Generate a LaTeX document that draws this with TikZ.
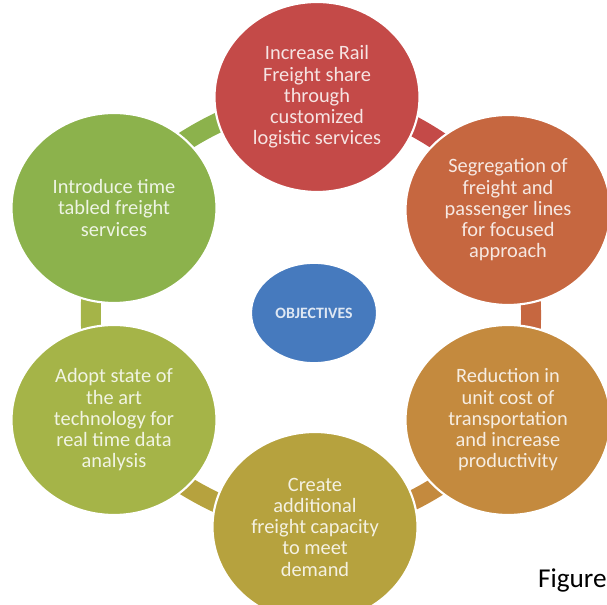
\documentclass[tikz,border=0pt]{standalone}
\usepackage{fontspec}
\setmainfont{Carlito}
\usetikzlibrary{shapes.geometric,backgrounds}

% ring colours, clockwise from the top
\definecolor{cRed}{RGB}{196,74,72}
\definecolor{cRust}{RGB}{198,103,64}
\definecolor{cTan}{RGB}{196,138,62}
\definecolor{cOlive}{RGB}{182,162,62}
\definecolor{cLime}{RGB}{165,180,72}
\definecolor{cGreen}{RGB}{140,178,76}
\definecolor{cBlue}{RGB}{70,122,190}

\tikzset{
	goal/.style={ellipse,draw=white,line width=1.2pt,minimum width=4.1cm,minimum height=3.8cm,
		inner sep=0pt,align=center,font=\fontsize{11.6}{12.1}\selectfont},
	hub/.style={ellipse,draw=white,line width=1pt,fill=cBlue,minimum width=2.24cm,minimum height=2cm,
		text=white!82!cBlue,font=\fontsize{9}{10}\selectfont\bfseries},
	link/.style={line width=0.4cm,bend left=30,looseness=0.75}
}

\begin{document}
\begin{tikzpicture}[x=0.02cm,y=0.02cm]
	\useasboundingbox (0,0) rectangle (607,604);
	\node[hub] (obj) at (314,291) {OBJECTIVES};
	\node[goal,fill=cRed,text=white!85!cRed] (g1) at (317,507)
		{Increase Rail\\Freight share\\through\\customized\\logistic services};
	\node[goal,fill=cRust,text=white!85!cRust] (g2) at (508,394)
		{Segregation of\\freight and\\passenger lines\\for focused\\approach};
	\node[goal,fill=cTan,text=white!85!cTan] (g3) at (508,184)
		{Reduction in\\unit cost of\\transportation\\and increase\\productivity};
	\node[goal,fill=cOlive,text=white!85!cOlive] (g4) at (315,77)
		{Create\\additional\\freight capacity\\to meet\\demand};
	\node[goal,fill=cLime,text=white!85!cLime] (g5) at (114,184)
		{Adopt state of\\the art\\technology for\\real time data\\analysis};
	\node[goal,fill=cGreen,text=white!85!cGreen] (g6) at (114,396)
		{Introduce time\\tabled freight\\services};
	% cycle links behind the circles
	\begin{scope}[on background layer]
		\draw[link,cRed] (g1.center) to (g2.center);
		\draw[link,cRust] (g2.center) to (g3.center);
		\draw[link,cTan] (g3.center) to (g4.center);
		\draw[link,cOlive] (g4.center) to (g5.center);
		\draw[link,cLime] (g5.center) to (g6.center);
		\draw[link,cGreen] (g6.center) to (g1.center);
	\end{scope}
	\node[anchor=base east,font=\fontsize{15.5}{17}\selectfont,inner sep=0pt] (fig) at (607,17) {Figure};
\end{tikzpicture}
\end{document}
